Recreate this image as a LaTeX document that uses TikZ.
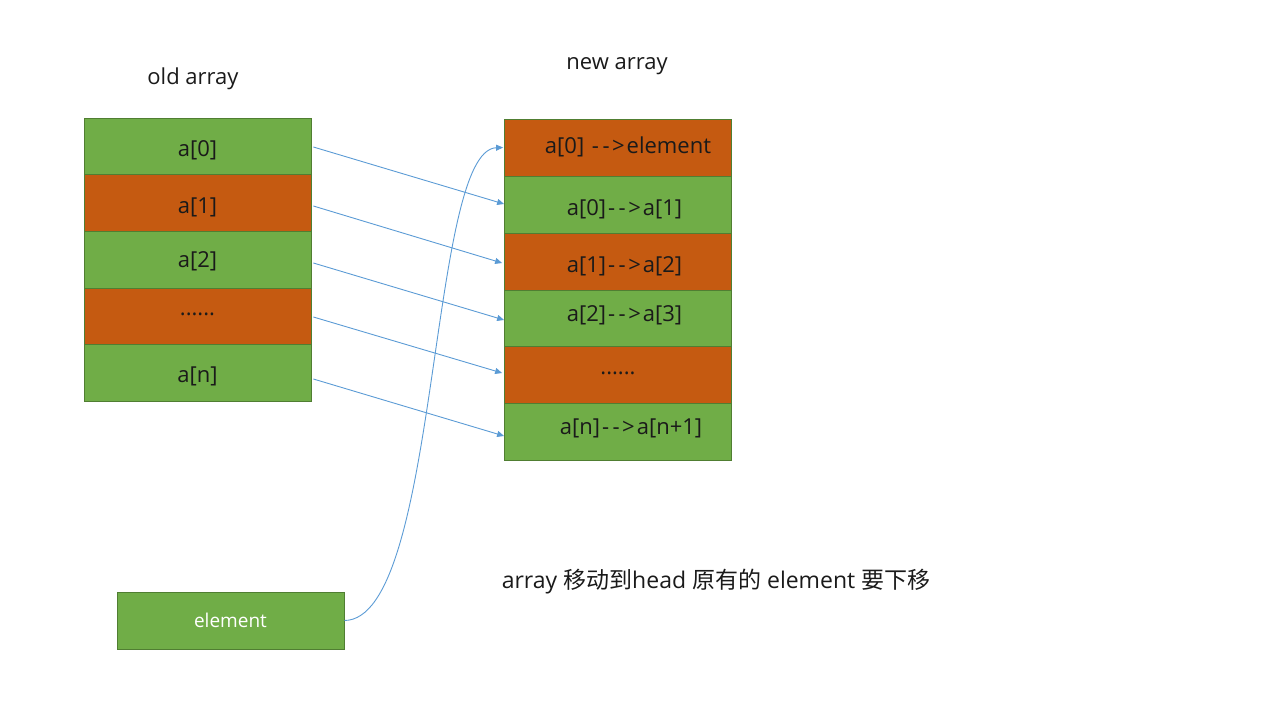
\documentclass[tikz,border=0pt]{standalone}
\usepackage{fontspec}
\setmainfont{Open Sans}
\newfontfamily\cjk{Noto Sans CJK SC}
\usetikzlibrary{arrows.meta,calc}
\definecolor{cgreen}{HTML}{70AD47}
\definecolor{corange}{HTML}{C55A11}
\definecolor{cborder}{HTML}{507E32}
\definecolor{carrow}{HTML}{5B9BD5}
\definecolor{ctext}{HTML}{1A1A1A}
\newcommand{\harr}{\kern2pt-\kern3.5pt-\kern2.5pt>\kern2pt}
\begin{document}
\begin{tikzpicture}[x=1pt,y=-1pt,
  cell/.style={draw=cborder,line width=0.8pt,minimum width=227pt,minimum height=57pt,inner sep=0pt,text height=15pt,text depth=5pt,text=ctext,font=\fontsize{22}{26}\selectfont},
  gcell/.style={cell,fill=cgreen},
  ocell/.style={cell,fill=corange},
  lbl/.style={text=ctext,font=\fontsize{22}{26}\selectfont,inner sep=0pt},
  arr/.style={draw=carrow,line width=0.9pt,-{Triangle[length=7pt,width=6pt]}}]
\useasboundingbox (0,0) rectangle (1280,720);
% old array
\node[gcell] (old0) at (197.5,146.5) {\raisebox{-4.9pt}{a[0]}};
\node[ocell] (old1) at (197.5,203) {\raisebox{-5.1pt}{a[1]}};
\node[gcell] (old2) at (197.5,259.5) {\raisebox{-3.1pt}{a[2]}};
\node[ocell] (old3) at (197.5,316.5) {\raisebox{6pt}{......}};
\node[gcell] (old4) at (197.5,373) {\raisebox{-4.2pt}{a[n]}};
\node[lbl] (oldlbl) at (193,79) {old array};
% new array
\node[ocell] (new0) at (618,147.5) {\hspace*{20pt}\raisebox{-0.6pt}{a[0] \harr element}};
\node[gcell] (new1) at (618,204.5) {\hspace*{13pt}\raisebox{-5.7pt}{a[0]\harr a[1]}};
\node[ocell] (new2) at (618,261.5) {\hspace*{13pt}\raisebox{-5.6pt}{a[1]\harr a[2]}};
\node[gcell] (new3) at (618,318.5) {\hspace*{13pt}\raisebox{2.4pt}{a[2]\harr a[3]}};
\node[ocell] (new4) at (618,375) {\raisebox{5.2pt}{......}};
\node[gcell] (new5) at (618,431.5) {\hspace*{26pt}\raisebox{1.8pt}{a[n]\harr a[n+1]}};
\node[lbl] (newlbl) at (617,66) {new array};
% element
\node[draw=cborder,line width=0.8pt,fill=cgreen,minimum width=227pt,minimum height=57pt,inner sep=0pt,text=white,font=\fontsize{19}{22}\selectfont] (elem) at (230.5,620.5) {element};
% caption
\node[lbl,font=\fontsize{23}{27}\selectfont] (cap) at (716,582) {array {\cjk 移动到}head {\cjk 原有的} element {\cjk 要下移}};
% arrows
\draw[arr] ([xshift=2pt,yshift=-0.5pt]old0.east) -- ([yshift=0.5pt]new1.west);
\draw[arr] ([xshift=2pt,yshift=-3pt]old1.east) -- ([xshift=-2pt,yshift=-1.5pt]new2.west);
\draw[arr] ([xshift=2pt,yshift=-3.5pt]old2.east) -- ([yshift=-1.5pt]new3.west);
\draw[arr] ([xshift=2pt,yshift=-0.5pt]old3.east) -- ([xshift=-2pt,yshift=2pt]new4.west);
\draw[arr] ([xshift=2pt,yshift=-6pt]old4.east) -- ([yshift=-4.5pt]new5.west);
\draw[arr] (elem.east) .. controls (440,620) and (428,150) .. ([xshift=-1pt]new0.west);
\end{tikzpicture}
\end{document}
